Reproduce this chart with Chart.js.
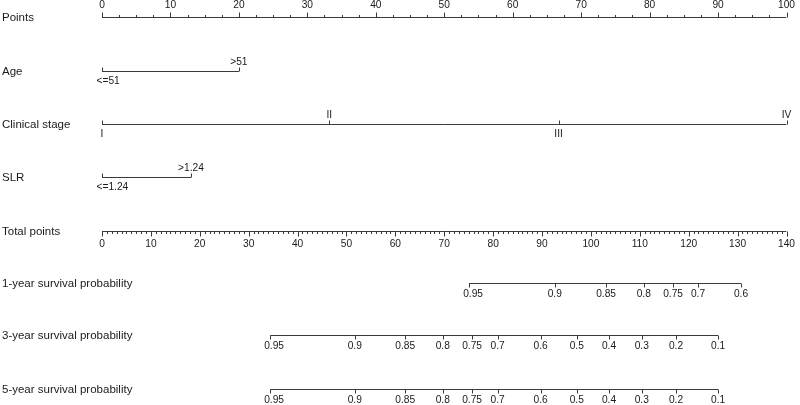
<!DOCTYPE html>
<html><head><meta charset="utf-8">
<script src="https://cdn.jsdelivr.net/npm/chart.js@4/dist/chart.umd.min.js"></script>
<style>html,body{margin:0;padding:0;background:#fff;overflow:hidden}canvas{display:block}</style>
</head><body>
<canvas id="c" width="800" height="405"></canvas>
<script>
// ---------- data ----------
const rowNames = ['Points','Age','Clinical stage','SLR','Total points',
  '1-year survival probability','3-year survival probability','5-year survival probability'];
const pointTicks = [0,10,20,30,40,50,60,70,80,90,100];
const ageLevels = ['<=51','>51'];
const agePoints = [0,20];
const stageLevels = ['I','II','III','IV'];
const stagePoints = [0,33.2,66.7,100];
const slrLevels = ['<=1.24','>1.24'];
const slrPoints = [0,13];
const totalTicks = [0,10,20,30,40,50,60,70,80,90,100,110,120,130,140];
const surv1Labels = ['0.95','0.9','0.85','0.8','0.75','0.7','0.6'];
const surv1Total = [75.1,92.6,103.1,110.8,116.8,121.9,130.7];
const surv3Labels = ['0.95','0.9','0.85','0.8','0.75','0.7','0.6','0.5','0.4','0.3','0.2','0.1'];
const surv3Total = [34.4,51.7,62.0,69.7,75.7,80.9,89.7,97.1,103.7,110.4,117.4,126.0];
const surv5Labels = ['0.95','0.9','0.85','0.8','0.75','0.7','0.6','0.5','0.4','0.3','0.2','0.1'];
const surv5Total = [34.4,51.7,62.0,69.7,75.7,80.9,89.7,97.1,103.7,110.4,117.4,126.0];

// ---------- layout / style ----------
const rowY = [17.5, 71.5, 124.5, 177.5, 231.5, 283.5, 335.5, 389.5];
const ageSide = ['below','above'];
const stageSide = ['below','above','below','above'];
const slrSide = ['below','above'];
const LINE = '#3a3a3a';
const TEXT = '#1a1a1a';
const FONT = '"Liberation Sans", Arial, Helvetica, sans-serif';

const rows = [
  {axis:'x', vals:pointTicks, labels:pointTicks.map(String), kind:'points'},
  {axis:'x', vals:agePoints, labels:ageLevels, sides:ageSide, kind:'var'},
  {axis:'x', vals:stagePoints, labels:stageLevels, sides:stageSide, kind:'var'},
  {axis:'x', vals:slrPoints, labels:slrLevels, sides:slrSide, kind:'var'},
  {axis:'xt', vals:totalTicks, labels:totalTicks.map(String), kind:'total'},
  {axis:'xt', vals:surv1Total, labels:surv1Labels, kind:'surv'},
  {axis:'xt', vals:surv3Total, labels:surv3Labels, kind:'surv'},
  {axis:'xt', vals:surv5Total, labels:surv5Labels, kind:'surv'}
];

const datasets = rows.map((r,i)=>({
  data:[{x:Math.min(...r.vals), y:rowY[i]},{x:Math.max(...r.vals), y:rowY[i]}],
  xAxisID:r.axis, yAxisID:'y', showLine:true, borderColor:LINE, borderWidth:1,
  pointRadius:0, fill:false, tension:0
}));

const crisp = v => Math.round(v) + 0.5;

const nomoPlugin = {
  id:'nomo',
  afterDatasetsDraw(chart){
    const ctx = chart.ctx;
    const ys = chart.scales.y;
    ctx.save();
    ctx.strokeStyle = LINE; ctx.lineWidth = 1;
    ctx.fillStyle = TEXT;
    // row names
    ctx.font = '11.5px ' + FONT;
    ctx.textAlign = 'left'; ctx.textBaseline = 'middle';
    rowNames.forEach((n,i)=>{ ctx.fillText(n, 2, ys.getPixelForValue(rowY[i]) + 0.5); });

    const tick = (x,y,len)=>{ ctx.beginPath(); ctx.moveTo(crisp(x), y); ctx.lineTo(crisp(x), y+len); ctx.stroke(); };

    rows.forEach((r,i)=>{
      const sc = chart.scales[r.axis];
      const y = ys.getPixelForValue(rowY[i]);
      ctx.font = '10.2px ' + FONT;
      ctx.textBaseline = 'middle';
      if (r.kind === 'points') {
        for (let v = 0; v <= 100.001; v += 2.5) {
          const major = Math.abs(v/10 - Math.round(v/10)) < 1e-6;
          tick(sc.getPixelForValue(v), y, major ? -5 : -2.5);
        }
        ctx.textAlign = 'center';
        r.vals.forEach((v,k)=>ctx.fillText(r.labels[k], sc.getPixelForValue(v), y - 12));
      } else if (r.kind === 'total') {
        for (let v = 0; v <= 140.001; v += 1) {
          const major = v % 10 === 0;
          tick(sc.getPixelForValue(v), y, major ? 5 : 2.5);
        }
        ctx.textAlign = 'center';
        r.vals.forEach((v,k)=>ctx.fillText(r.labels[k], sc.getPixelForValue(v), y + 12.5));
      } else if (r.kind === 'surv') {
        r.vals.forEach((v,k)=>{
          const x = sc.getPixelForValue(v);
          tick(x, y, 4);
          const w = ctx.measureText(r.labels[k]).width;
          let left = x - w/2;
          if (k === 0) left = Math.max(left, x - 6);
          ctx.textAlign = 'left';
          ctx.fillText(r.labels[k], left, y + 11);
        });
      } else {
        r.vals.forEach((v,k)=>{
          const x = sc.getPixelForValue(v);
          tick(x, y, -4);
          const w = ctx.measureText(r.labels[k]).width;
          let left = x - w/2;
          if (k === 0) left = Math.max(left, x - 5.5);
          ctx.textAlign = 'left';
          const ty = r.sides[k] === 'above' ? y - 9 : y + 10;
          ctx.fillText(r.labels[k], left, ty);
        });
      }
    });
    ctx.restore();
  }
};

new Chart(document.getElementById('c'), {
  type:'scatter',
  data:{datasets},
  options:{
    responsive:false, animation:false, devicePixelRatio:1,
    layout:{padding:{left:102, right:13.5, top:0, bottom:0}},
    plugins:{legend:{display:false}, tooltip:{enabled:false}},
    scales:{
      x:{type:'linear', min:0, max:100, display:false},
      xt:{type:'linear', min:0, max:140, display:false},
      y:{type:'linear', min:0, max:405, reverse:true, display:false}
    }
  },
  plugins:[nomoPlugin]
});
</script>
</body></html>
